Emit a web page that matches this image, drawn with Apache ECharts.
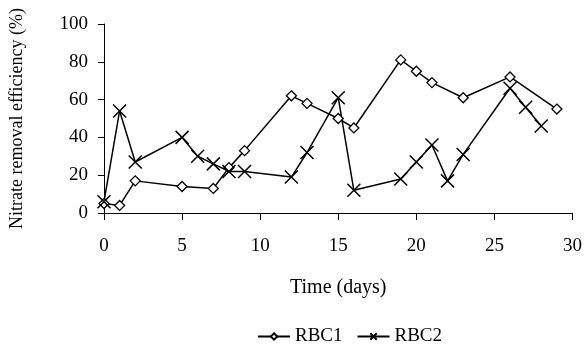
<!DOCTYPE html>
<html>
<head>
<meta charset="utf-8">
<script src="https://cdn.jsdelivr.net/npm/echarts@6/dist/echarts.min.js"></script>
<style>
html, body { margin: 0; padding: 0; background: #fff; }
#chart { width: 585px; height: 344px; }
</style>
</head>
<body>
<div id="chart"></div>
<script>
var rbc1Days = [0, 1, 2, 5, 7, 8, 9, 12, 13, 15, 16, 19, 20, 21, 23, 26, 29];
var rbc1Values = [5, 4, 17, 14, 13, 24, 33, 62, 58, 50, 45, 81, 75, 69, 61, 72, 55];
var rbc2Days = [0, 1, 2, 5, 6, 7, 8, 9, 12, 13, 15, 16, 19, 20, 21, 22, 23, 26, 27, 28];
var rbc2Values = [6, 54, 27, 40, 30, 26, 22, 22, 19, 32, 61, 12, 18, 27, 36, 17, 31, 66, 56, 46];

function pairs(xs, ys) {
    return xs.map(function (x, i) { return [x, ys[i]]; });
}

var font = '"Liberation Serif", "Times New Roman", serif';
var crossPath = 'path://M0,0L10,10M10,0L0,10';

var option = {
    animation: false,
    backgroundColor: '#fff',
    textStyle: { fontFamily: font, color: '#000' },
    grid: {
        left: 104,
        right: 12,
        top: 24,
        bottom: 131
    },
    legend: {
        top: 322,
        left: 252,
        itemWidth: 32,
        itemHeight: 8,
        itemGap: 14,
        textStyle: { fontFamily: font, fontSize: 19, color: '#000' },
        data: ['RBC1', 'RBC2']
    },
    xAxis: {
        type: 'value',
        min: 0,
        max: 30,
        interval: 5,
        name: 'Time (days)',
        nameLocation: 'middle',
        nameGap: 65,
        nameTextStyle: { fontFamily: font, fontSize: 20, color: '#000' },
        axisLine: { lineStyle: { color: '#000', width: 1 } },
        axisTick: { inside: false, length: 7, lineStyle: { color: '#000' } },
        axisLabel: { fontFamily: font, fontSize: 19, color: '#000', margin: 24 },
        splitLine: { show: false }
    },
    yAxis: {
        type: 'value',
        min: 0,
        max: 100,
        interval: 20,
        name: 'Nitrate removal efficiency (%)',
        nameLocation: 'middle',
        nameGap: 78,
        nameTextStyle: { fontFamily: font, fontSize: 18, color: '#000' },
        axisLine: { show: true, lineStyle: { color: '#000', width: 1 } },
        axisTick: { show: true, length: 6, lineStyle: { color: '#000' } },
        axisLabel: { fontFamily: font, fontSize: 19, color: '#000', margin: 16 },
        splitLine: { show: false }
    },
    series: [{
        name: 'RBC1',
        type: 'line',
        data: pairs(rbc1Days, rbc1Values),
        symbol: 'diamond',
        symbolSize: 10,
        showAllSymbol: true,
        lineStyle: { color: '#000', width: 1.5 },
        itemStyle: { color: '#fff', borderColor: '#000', borderWidth: 1.3 }
    }, {
        name: 'RBC2',
        type: 'line',
        data: pairs(rbc2Days, rbc2Values),
        symbol: crossPath,
        symbolSize: 13,
        showAllSymbol: true,
        lineStyle: { color: '#000', width: 1.5 },
        itemStyle: { color: 'none', borderColor: '#000', borderWidth: 1.5 }
    }]
};

var myChart = echarts.init(document.getElementById('chart'));
myChart.setOption(option);
</script>
</body>
</html>
